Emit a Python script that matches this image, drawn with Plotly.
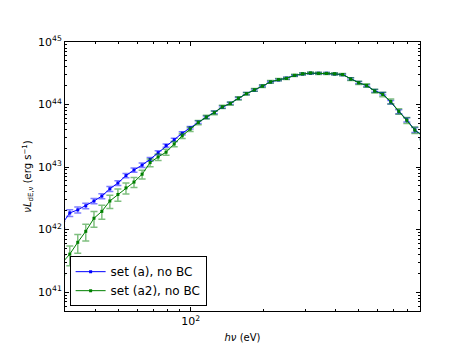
import plotly.graph_objects as go

# photon energy (eV), log-spaced bins; first and last fall just outside the axes
energy = [29.1, 31.4, 33.9, 36.6, 39.6, 42.7, 46.1, 49.8, 53.8, 58.1, 62.8,
          67.8, 73.2, 79.0, 85.4, 92.2, 99.5, 107.5, 116.1, 125.4, 135.4,
          146.2, 157.9, 170.5, 184.1, 198.8, 214.7, 231.9, 250.4, 270.4,
          292.0, 315.3, 340.5, 367.7, 397.1, 428.8, 463.1, 500.1, 540.0,
          583.2, 629.8, 680.1, 734.4, 793.1, 856.5, 925.0]

lum_a = [1.21e42, 1.85e42, 2.07e42, 2.40e42, 2.87e42, 3.44e42, 4.49e42,
         5.56e42, 7.31e42, 8.98e42, 1.075e43, 1.33e43, 1.70e43, 2.21e43,
         2.74e43, 3.48e43, 4.26e43, 5.23e43, 6.27e43, 7.50e43, 9.08e43,
         1.047e44, 1.254e44, 1.50e44, 1.70e44, 1.98e44, 2.29e44, 2.48e44,
         2.64e44, 2.91e44, 3.08e44, 3.16e44, 3.16e44, 3.16e44, 3.08e44,
         3.00e44, 2.58e44, 2.25e44, 2.00e44, 1.66e44, 1.49e44, 1.09e44,
         7.69e43, 5.69e43, 3.93e43, 3.16e43]

lum_a2 = [2.89e41, 4.06e41, 6.27e41, 9.40e41, 1.52e42, 1.96e42, 2.87e42,
          3.65e42, 4.65e42, 5.76e42, 7.69e42, 1.18e43, 1.45e43, 1.73e43,
          2.34e43, 3.16e43, 4.03e43, 5.15e43, 6.30e43, 7.40e43, 9.20e43,
          1.04e44, 1.26e44, 1.49e44, 1.72e44, 1.97e44, 2.30e44, 2.50e44,
          2.62e44, 2.93e44, 3.10e44, 3.20e44, 3.15e44, 3.14e44, 3.10e44,
          3.02e44, 2.55e44, 2.22e44, 2.02e44, 1.64e44, 1.45e44, 1.12e44,
          7.80e43, 5.60e43, 3.90e43, 3.10e43]

# relative (fractional) errors
err_a = [0.12, 0.12, 0.11, 0.10, 0.10, 0.09, 0.09, 0.09, 0.08, 0.08, 0.08,
         0.07, 0.07, 0.06, 0.06, 0.06, 0.05, 0.05, 0.05, 0.05, 0.04, 0.04,
         0.04, 0.04, 0.04, 0.03, 0.03, 0.03, 0.03, 0.03, 0.03, 0.03, 0.03,
         0.03, 0.03, 0.03, 0.04, 0.04, 0.04, 0.05, 0.05, 0.06, 0.07, 0.08,
         0.09, 0.09]

err_a2 = [0.35, 0.35, 0.33, 0.30, 0.28, 0.25, 0.24, 0.22, 0.20, 0.18, 0.16,
          0.14, 0.12, 0.11, 0.10, 0.09, 0.08, 0.08, 0.07, 0.07, 0.06, 0.06,
          0.06, 0.05, 0.05, 0.05, 0.05, 0.04, 0.04, 0.04, 0.04, 0.04, 0.04,
          0.04, 0.04, 0.04, 0.05, 0.06, 0.06, 0.07, 0.08, 0.09, 0.10, 0.11,
          0.12, 0.12]

series = [
    ("set (a), no BC", lum_a, err_a, "#0000ff", "rgba(0,0,255,0.5)"),
    ("set (a2), no BC", lum_a2, err_a2, "#008000", "rgba(0,128,0,0.5)"),
]

fig = go.Figure()

for name, lum, err, color, ecolor in series:
    fig.add_trace(go.Scatter(
        x=energy,
        y=lum,
        name=name,
        mode="lines+markers",
        line=dict(color=color, width=1),
        marker=dict(color=color, size=3, symbol="square"),
        error_y=dict(type="data", array=[v * e for v, e in zip(lum, err)],
                     color=ecolor, thickness=1.5, width=3.5),
    ))

font = dict(family="DejaVu Sans", size=11, color="black")

x_minor = [40, 50, 60, 70, 80, 90, 200, 300, 400, 500, 600, 700, 800, 900]
y_minor = [m * 10.0 ** d for d in range(40, 45) for m in range(2, 10)]

fig.update_xaxes(
    type="log",
    range=[1.4771, 2.9542],
    tickvals=[100],
    ticktext=["10<sup>2</sup>"],
    ticks="inside", ticklen=4, tickcolor="black",
    minor=dict(tickvals=x_minor, ticks="inside", ticklen=2, tickcolor="black"),
    showline=True, linecolor="black", linewidth=1, mirror="ticks",
    showgrid=False, zeroline=False,
    title=dict(text="<i>hν</i> (eV)", font=dict(family="DejaVu Sans", size=10), standoff=6),
    tickfont=font,
)

fig.update_yaxes(
    type="log",
    range=[40.699, 45],
    tickvals=[1e41, 1e42, 1e43, 1e44, 1e45],
    ticktext=["10<sup>41</sup>", "10<sup>42</sup>", "10<sup>43</sup>",
              "10<sup>44</sup>", "10<sup>45</sup>"],
    ticks="inside", ticklen=4, tickcolor="black",
    minor=dict(tickvals=y_minor, ticks="inside", ticklen=2, tickcolor="black"),
    showline=True, linecolor="black", linewidth=1, mirror="ticks",
    showgrid=False, zeroline=False,
    title=dict(text="<i>νL</i><sub>dE,ν</sub> (erg s<sup>−1</sup>)",
               font=dict(family="DejaVu Sans", size=10), standoff=4),
    tickfont=font,
)

fig.update_layout(
    width=458, height=345,
    margin=dict(l=57, r=46, t=34, b=35),
    plot_bgcolor="white", paper_bgcolor="white",
    font=font,
    legend=dict(x=0.013, y=0.018, xanchor="left", yanchor="bottom",
                bgcolor="white", bordercolor="black", borderwidth=1,
                font=dict(family="DejaVu Sans", size=12),
                tracegroupgap=0, itemwidth=30),
)

fig.write_html("out.html")
